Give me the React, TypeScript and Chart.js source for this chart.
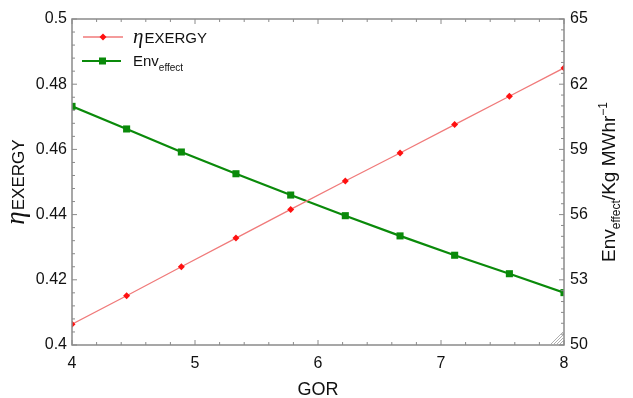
import React, { useEffect, useRef } from "react";
import { Chart, registerables } from "chart.js";

Chart.register(...registerables);

const gor = [4, 4.444, 4.889, 5.333, 5.778, 6.222, 6.667, 7.111, 7.556, 8];
const etaExergy = [0.4064, 0.4151, 0.424, 0.4328, 0.4416, 0.4503, 0.4589, 0.4676, 0.4763, 0.485];
const envEffect = [60.98, 59.94, 58.88, 57.88, 56.9, 55.95, 55.02, 54.13, 53.28, 52.41];

const xMin = 4, xMax = 8, xStep = 1, xMinor = 0.2;
const yMin = 0.4, yMax = 0.5, yStep = 0.02, yMinor = 0.004;
const y2Min = 50, y2Max = 65, y2Step = 3, y2Minor = 0.5;

const SANS = "'Liberation Sans', Arial, Helvetica, sans-serif";
const SERIF = "'Liberation Serif', 'Times New Roman', serif";
const FRAME = "#8a8a8a";
const TEXT = "#111";
const RED_LINE = "#f07a7a";
const RED_PT = "#ff1010";
const GREEN = "#0a8a0a";

const decor = {
  id: "decor",
  afterDatasetsDraw(chart: any) {
    const ctx = chart.ctx;
    const a = chart.chartArea;
    const xs = chart.scales.x, ys = chart.scales.y, y2 = chart.scales.y2;
    ctx.save();
    // frame
    ctx.strokeStyle = FRAME;
    ctx.lineWidth = 1.5;
    ctx.strokeRect(a.left, a.top, a.right - a.left, a.bottom - a.top);
    // ticks
    ctx.lineWidth = 1;
    ctx.beginPath();
    const nx = Math.round((xMax - xMin) / xMinor);
    for (let i = 0; i <= nx; i++) {
      const v = xMin + i * xMinor;
      const px = xs.getPixelForValue(v);
      const len = i % Math.round(xStep / xMinor) === 0 ? 5 : 3;
      ctx.moveTo(px, a.bottom); ctx.lineTo(px, a.bottom - len);
      ctx.moveTo(px, a.top); ctx.lineTo(px, a.top + len);
    }
    const ny = Math.round((yMax - yMin) / yMinor);
    for (let i = 0; i <= ny; i++) {
      const v = yMin + i * yMinor;
      const py = ys.getPixelForValue(v);
      const len = i % Math.round(yStep / yMinor) === 0 ? 5 : 3;
      ctx.moveTo(a.left, py); ctx.lineTo(a.left + len, py);
    }
    const ny2 = Math.round((y2Max - y2Min) / y2Minor);
    for (let i = 0; i <= ny2; i++) {
      const v = y2Min + i * y2Minor;
      const py = y2.getPixelForValue(v);
      const len = i % Math.round(y2Step / y2Minor) === 0 ? 5 : 3;
      ctx.moveTo(a.right, py); ctx.lineTo(a.right - len, py);
    }
    ctx.stroke();
    // corner grip
    ctx.strokeStyle = "#b0b0b0";
    ctx.lineWidth = 1;
    ctx.beginPath();
    for (let k = 0; k < 4; k++) {
      const d = 4 + k * 3;
      ctx.moveTo(a.right - d, a.bottom - 1);
      ctx.lineTo(a.right - 1, a.bottom - d);
    }
    ctx.stroke();

    // legend
    const lx0 = a.left + 11, lx1 = a.left + 51, tx = a.left + 61;
    const ly1 = a.top + 18, ly2 = a.top + 42;
    ctx.strokeStyle = RED_LINE; ctx.lineWidth = 1.3;
    ctx.beginPath(); ctx.moveTo(lx0, ly1); ctx.lineTo(lx1, ly1); ctx.stroke();
    const mx = (lx0 + lx1) / 2;
    ctx.fillStyle = RED_PT;
    ctx.beginPath();
    ctx.moveTo(mx, ly1 - 3.5); ctx.lineTo(mx + 3.5, ly1); ctx.lineTo(mx, ly1 + 3.5); ctx.lineTo(mx - 3.5, ly1);
    ctx.closePath(); ctx.fill();
    ctx.strokeStyle = GREEN; ctx.lineWidth = 2.2;
    ctx.beginPath(); ctx.moveTo(lx0 - 1, ly2); ctx.lineTo(lx1 - 2, ly2); ctx.stroke();
    ctx.fillStyle = GREEN;
    ctx.fillRect((lx0 + lx1) / 2 - 4, ly2 - 3.5, 7, 7);

    ctx.fillStyle = TEXT;
    ctx.textBaseline = "alphabetic";
    ctx.textAlign = "left";
    let x = tx;
    ctx.font = `italic 21px ${SERIF}`;
    ctx.fillText("\u03b7", x, ly1 + 6);
    x += ctx.measureText("\u03b7").width + 1;
    ctx.font = `15px ${SANS}`;
    ctx.fillText("EXERGY", x, ly1 + 6);
    x = tx;
    ctx.fillText("Env", x, ly2 + 5);
    x += ctx.measureText("Env").width;
    ctx.font = `10px ${SANS}`;
    ctx.fillText("effect", x, ly2 + 10);

    // x title
    ctx.font = `18px ${SANS}`;
    ctx.textAlign = "center";
    ctx.fillText("GOR", (a.left + a.right) / 2, 395);

    // left title
    const cy = (a.top + a.bottom) / 2;
    ctx.save();
    ctx.translate(24, cy);
    ctx.rotate(-Math.PI / 2);
    ctx.textAlign = "left";
    ctx.font = `italic 27px ${SERIF}`;
    const wEta = ctx.measureText("\u03b7").width;
    ctx.font = `17px ${SANS}`;
    const wEx = ctx.measureText("EXERGY").width;
    let sx = -(wEta + wEx + 1) / 2;
    ctx.font = `italic 27px ${SERIF}`;
    ctx.fillText("\u03b7", sx, 0);
    sx += wEta + 1;
    ctx.font = `17px ${SANS}`;
    ctx.fillText("EXERGY", sx, 0);
    ctx.restore();

    // right title
    ctx.save();
    ctx.translate(615, cy);
    ctx.rotate(-Math.PI / 2);
    ctx.textAlign = "left";
    const parts: [string, number, number][] = [
      ["Env", 19, 0],
      ["effect", 12, 5],
      ["/Kg MWhr", 19, 0],
      ["\u22121", 12, -8],
    ];
    let total = 0;
    for (const [t, f] of parts) { ctx.font = `${f}px ${SANS}`; total += ctx.measureText(t).width; }
    let px = -total / 2;
    for (const [t, f, dy] of parts) {
      ctx.font = `${f}px ${SANS}`;
      ctx.fillText(t, px, dy);
      px += ctx.measureText(t).width;
    }
    ctx.restore();
    ctx.restore();
  },
};

export default function App() {
  const ref = useRef<HTMLCanvasElement | null>(null);
  useEffect(() => {
    if (!ref.current) return;
    const chart = new Chart(ref.current, {
      type: "line",
      data: {
        datasets: [
          {
            label: "\u03b7EXERGY",
            data: gor.map((g, i) => ({ x: g, y: etaExergy[i] })),
            yAxisID: "y",
            borderColor: RED_LINE,
            borderWidth: 1.3,
            pointStyle: "rectRot",
            pointRadius: 3.5,
            pointBackgroundColor: RED_PT,
            pointBorderColor: RED_PT,
            pointBorderWidth: 0,
          },
          {
            label: "Env effect",
            data: gor.map((g, i) => ({ x: g, y: envEffect[i] })),
            yAxisID: "y2",
            borderColor: GREEN,
            borderWidth: 2.2,
            pointStyle: "rect",
            pointRadius: 5,
            pointBackgroundColor: GREEN,
            pointBorderColor: GREEN,
            pointBorderWidth: 0,
          },
        ],
      },
      options: {
        animation: false,
        responsive: true,
        maintainAspectRatio: false,
        layout: { padding: { top: 19, left: 0, right: 0, bottom: 0 } },
        plugins: { legend: { display: false }, tooltip: { enabled: false } },
        scales: {
          x: {
            type: "linear",
            min: xMin,
            max: xMax,
            grid: { display: false, drawTicks: false },
            border: { display: false },
            ticks: { stepSize: xStep, padding: 9, color: TEXT, font: { size: 16, family: SANS } },
            afterFit: (s: any) => { s.height = 53; },
          },
          y: {
            type: "linear",
            position: "left",
            min: yMin,
            max: yMax,
            grid: { display: false, drawTicks: false },
            border: { display: false },
            ticks: {
              stepSize: yStep,
              padding: 5,
              color: TEXT,
              font: { size: 16, family: SANS },
              callback: (v: any) => String(+Number(v).toFixed(2)),
            },
            afterFit: (s: any) => { s.width = 72; },
          },
          y2: {
            type: "linear",
            position: "right",
            min: y2Min,
            max: y2Max,
            grid: { display: false, drawTicks: false },
            border: { display: false },
            ticks: { stepSize: y2Step, padding: 6, color: TEXT, font: { size: 16, family: SANS } },
            afterFit: (s: any) => { s.width = 69; },
          },
        },
      },
      plugins: [decor],
    } as any);
    return () => chart.destroy();
  }, []);
  return (
    <div style={{ position: "fixed", left: 0, top: 0, width: 633, height: 398, background: "#fff" }}>
      <canvas ref={ref} />
    </div>
  );
}
